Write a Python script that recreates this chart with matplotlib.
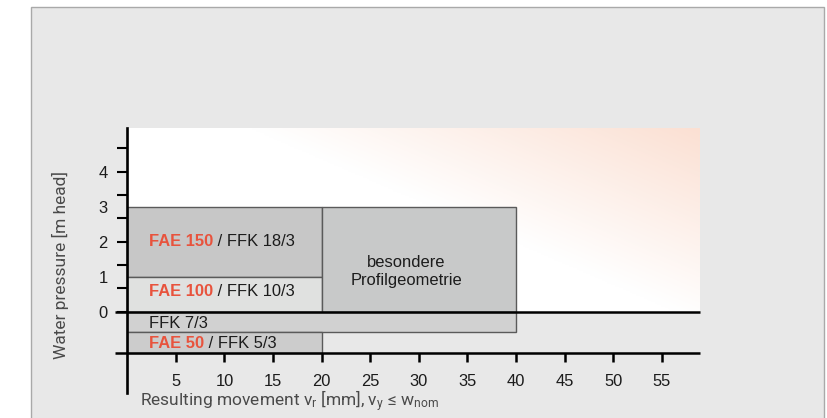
import numpy as np
import matplotlib
matplotlib.use("Agg")
import matplotlib.pyplot as plt
from matplotlib.patches import Rectangle
from matplotlib.ticker import FixedLocator, NullFormatter

# ---------------- data ----------------
x_tick_values = [5, 10, 15, 20, 25, 30, 35, 40, 45, 50, 55]
y_tick_labels = [0, 1, 2, 3, 4]
y_tick_marks = [0, 2 / 3, 4 / 3, 2, 8 / 3, 10 / 3, 4, 14 / 3]

box_x0 = [0, 0, 20, 0, 0]
box_x1 = [20, 20, 40, 40, 20]
box_y0 = [1, 0, 0, -0.57, -1.18]
box_y1 = [3, 1, 3, 0, -0.57]
box_red_text = ["FAE 150", "FAE 100", "", "", "FAE 50"]
box_black_text = [" / FFK 18/3", " / FFK 10/3", "besondere\nProfilgeometrie", "FFK 7/3", " / FFK 5/3"]

x_label = "Resulting movement v$_\\mathregular{r}$ [mm], v$_\\mathregular{y}$ \u2264 w$_\\mathregular{nom}$"
y_label = "Water pressure [m head]"

# ---------------- style ----------------
box_colors = ["#c7c7c7", "#e0e1e0", "#c8c9c9", "#d1d1d1", "#cccccc"]
label_xy = [(2.25, 1.88), (2.25, 0.45), (28.7, 1.15), (2.25, -0.475), (2.25, -1.03)]
RED = "#e8533d"
TXT = "#1c1c1c"
PANEL = "#e8e8e8"
PEACH = np.array([0xfb, 0xe0, 0xd3]) / 255.0
FS = 11.9

plt.rcParams["mathtext.fontset"] = "custom"
plt.rcParams["mathtext.rm"] = "Roboto"
plt.rcParams["mathtext.it"] = "Roboto"

W, H = 827, 418
fig = plt.figure(figsize=(W / 100, H / 100), dpi=100)
fig.patch.set_facecolor("white")

# grey panel
fig.patches.append(Rectangle((31 / W, -0.01), (824 - 31) / W, (418 - 7) / H + 0.01,
                             transform=fig.transFigure, facecolor=PANEL,
                             edgecolor="#a9a9a9", linewidth=1.0, zorder=-5))

x_max = 58.93
y_bot, y_top = -2.32, 5.25
x_axis_y = -1.18

ax = fig.add_axes([127.2 / W, (418 - 393) / H, (700 - 127.2) / W, (393 - 128) / H])
ax.set_facecolor("none")

# gradient background above zero line
nx, ny = 300, 120
gx, gy = np.meshgrid(np.linspace(0, 1, nx), np.linspace(0, 1, ny))
t = np.clip(1.28 * gx + 0.95 * gy - 1.23, 0, 1)
img = (1 - t)[..., None] * np.ones(3) + t[..., None] * PEACH
ax.imshow(img, extent=[0, x_max, 0, y_top], origin="lower", aspect="auto", zorder=0)
ax.set_xlim(0, x_max)
ax.set_ylim(y_bot, y_top)

# boxes
for x0, x1, y0, y1, fc in zip(box_x0, box_x1, box_y0, box_y1, box_colors):
    ax.add_patch(Rectangle((x0, y0), x1 - x0, y1 - y0, facecolor=fc,
                           edgecolor="#5a5a5a", linewidth=1.0, zorder=2))

# labels
for (lx, ly), red, black in zip(label_xy, box_red_text, box_black_text):
    if red:
        r = ax.text(lx, ly, red, color=RED, fontsize=FS, fontweight="bold",
                    family="Liberation Sans", va="baseline", ha="left", zorder=4)
        ax.annotate(black, xy=(1, 0), xycoords=r, va="bottom", ha="left",
                    color=TXT, fontsize=FS, family="Liberation Sans", zorder=4)
    elif "\n" in black:
        ax.text(lx, ly, black, color=TXT, fontsize=FS, family="Liberation Sans",
                va="center", ha="center", linespacing=1.2, zorder=4)
    else:
        ax.text(lx, ly, black, color=TXT, fontsize=FS, family="Liberation Sans",
                va="baseline", ha="left", zorder=4)

# zero line and x axis line (extend slightly left of y axis)
ax.plot([-1.25, x_max], [0, 0], color="black", lw=1.8, clip_on=False, zorder=5,
        solid_capstyle="butt")
ax.plot([-1.25, x_max], [x_axis_y, x_axis_y], color="black", lw=1.8, clip_on=False,
        zorder=5, solid_capstyle="butt")

# spines
for s in ["top", "right"]:
    ax.spines[s].set_visible(False)
ax.spines["bottom"].set_position(("data", x_axis_y))
ax.spines["bottom"].set_visible(False)
ax.spines["left"].set_linewidth(1.9)
ax.spines["left"].set_zorder(6)

# x ticks
ax.set_xticks(x_tick_values)
ax.set_xticklabels([str(v) for v in x_tick_values], family="Liberation Sans",
                   fontsize=FS, color=TXT)
ax.tick_params(axis="x", direction="out", length=6.5, width=1.8, pad=8.5, color="black")

# y ticks: labels at integers (no marks), marks every 2/3
ax.yaxis.remove_overlapping_locs = False
ax.yaxis.set_major_locator(FixedLocator(y_tick_labels))
ax.set_yticklabels([str(v) for v in y_tick_labels], family="Liberation Sans",
                   fontsize=FS, color=TXT)
ax.tick_params(axis="y", which="major", length=0, pad=14)
ax.yaxis.set_minor_locator(FixedLocator(y_tick_marks))
ax.yaxis.set_minor_formatter(NullFormatter())
ax.tick_params(axis="y", which="minor", direction="out", length=7.2, width=1.5, color="black")

# axis titles
fig.text(140 / W, (418 - 406) / H, x_label, family="Roboto", fontsize=12.5,
         color="#4a4a4a", ha="left", va="baseline")
fig.text(60 / W, (418 - 265) / H, y_label, family="Roboto", fontsize=12.5,
         color="#4a4a4a", ha="center", va="center", rotation=90)

fig.savefig("out.png", dpi=100)
